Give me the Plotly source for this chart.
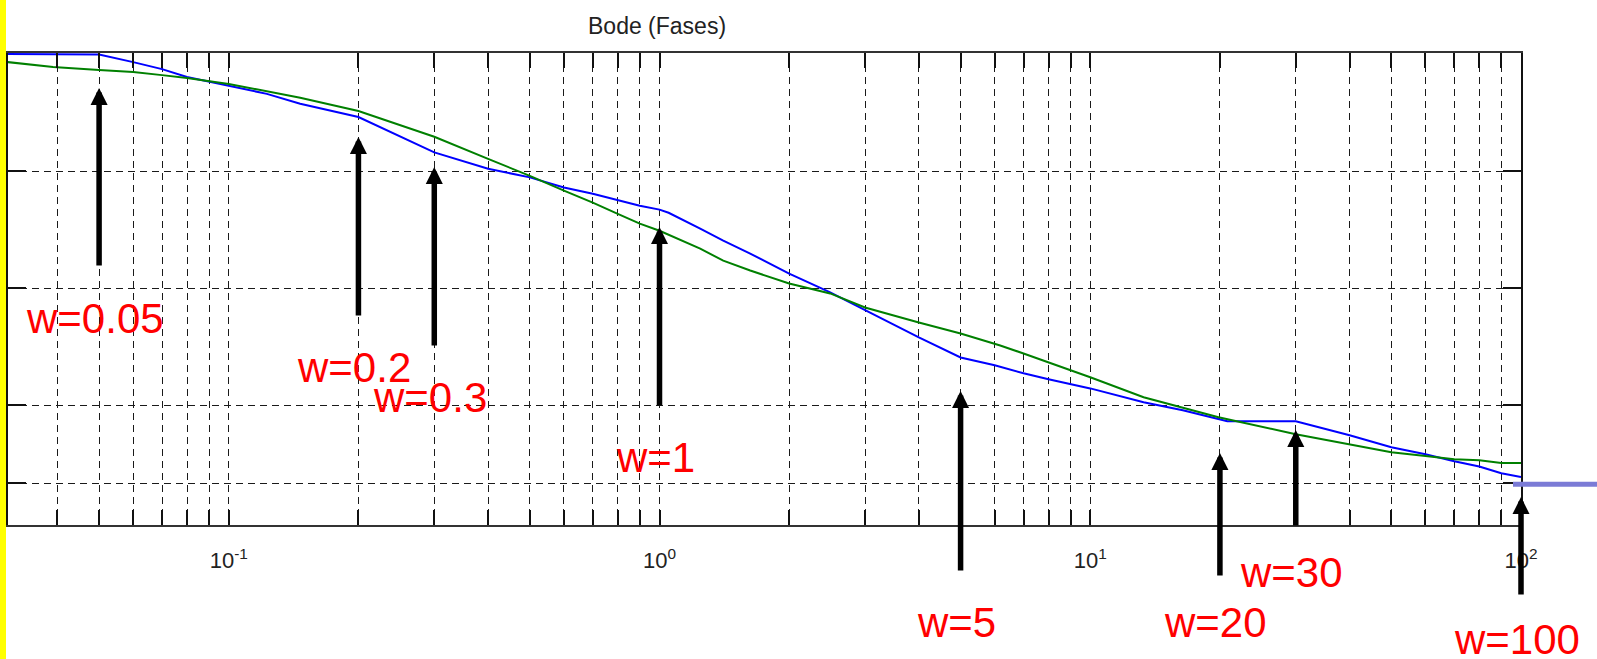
import numpy as np
import plotly.graph_objects as go

# Frequencies (rad/s) and phase curves (degrees)
freq = [0.0307, 0.05, 0.06, 0.07, 0.08, 0.1, 0.1226, 0.1465, 0.2, 0.3, 0.4, 0.5,
        0.6, 0.7, 0.8, 0.9, 1.0, 1.05, 1.243, 1.406, 1.624, 2.0, 2.49, 3.0, 4.0,
        5.0, 6.0, 7.0, 8.0, 10.0, 13.3, 16.4, 19.85, 20.8, 30.0, 40.0, 50.0,
        60.0, 70.0, 80.0, 90.0, 100.0]
phase_blue = [0.0, -0.2, -3.1, -5.8, -8.8, -12.3, -15.3, -19.1, -24.2, -37.8, -44.1,
              -47.4, -51.3, -53.7, -56.0, -58.3, -59.8, -61.0, -67.1, -71.7, -76.7,
              -84.4, -91.6, -98.5, -108.9, -116.6, -119.6, -122.7, -125.0, -128.5,
              -133.8, -136.9, -140.3, -141.1, -141.1, -146.5, -151.1, -153.8,
              -156.5, -158.5, -161.1, -162.6]

freq_g = [0.0307, 0.0391, 0.05, 0.06, 0.07, 0.08, 0.1, 0.1465, 0.2, 0.3, 0.4, 0.5,
          0.6, 0.7, 0.8, 0.9, 1.0, 1.243, 1.406, 1.624, 2.0, 2.49, 3.0, 4.0, 5.0,
          6.18, 7.0, 10.0, 13.3, 19.85, 30.0, 40.0, 50.0, 60.0, 70.0, 80.0, 90.0,
          100.0]
phase_green = [-3.1, -5.0, -6.1, -6.9, -8.1, -9.2, -11.5, -16.8, -21.9, -31.8, -40.3,
               -46.8, -52.5, -57.1, -61.4, -65.2, -67.9, -74.8, -79.4, -83.2, -88.2,
               -92.0, -97.4, -103.2, -107.4, -112.0, -115.1, -124.2, -131.9, -139.6,
               -146.1, -149.9, -153.0, -154.5, -155.7, -156.1, -157.2, -157.2]

# Marked frequencies
marked_w = [0.05, 0.2, 0.3, 1, 5, 20, 30, 100]
marked_labels = ["w=0.05", "w=0.2", "w=0.3", "w=1", "w=5", "w=20", "w=30", "w=100"]

# Axis ticks
decade_vals = [0.1, 1, 10, 100]
decade_text = ["10<sup>-1</sup>", "10<sup>0</sup>", "10<sup>1</sup>", "10<sup>2</sup>"]
phase_ticks = [-45, -90, -135, -165]
limit_phase = -165.3

W, H = 1597, 659
ML, MR, MT, MB = 8, 76, 53, 134
PW, PH = W - ML - MR, H - MT - MB

def py(pix):
    """Vertical pixel -> paper fraction."""
    return (H - MB - pix) / PH

def px(pix):
    return (pix - ML) / PW

FONT = "Arial, Liberation Sans, sans-serif"

fig = go.Figure()
fig.add_trace(go.Scatter(x=freq, y=phase_blue, mode="lines",
                         line=dict(color="#0000ff", width=2), showlegend=False))
fig.add_trace(go.Scatter(x=freq_g, y=phase_green, mode="lines",
                         line=dict(color="#008000", width=2), showlegend=False))

minor_vals = [m * 10.0 ** e for e in range(-2, 2) for m in range(2, 10)]
grid_style = dict(griddash="7px,5px", gridcolor="#1a1a1a", gridwidth=1.4)

fig.update_xaxes(type="log", range=[-1.5125, 2],
                 tickvals=decade_vals, ticktext=decade_text,
                 showline=True, linecolor="#333", linewidth=2, mirror="ticks",
                 ticks="inside", ticklen=15, tickwidth=1.5, tickcolor="#111",
                 showgrid=True, **grid_style,
                 tickfont=dict(family=FONT, size=22, color="#222"),
                 ticklabelstandoff=15,
                 minor=dict(tickvals=minor_vals, ticks="inside", ticklen=15,
                            tickwidth=1.5, tickcolor="#111", showgrid=True,
                            **grid_style),
                 zeroline=False)
fig.update_yaxes(range=[-181, 0.4], tickvals=phase_ticks, showticklabels=False,
                 showline=True, linecolor="#111", linewidth=2, mirror="ticks",
                 ticks="inside", ticklen=18, tickwidth=1.5, tickcolor="#111",
                 showgrid=True, **grid_style, zeroline=False)

# Arrows pointing up to each marked frequency
arrow_tip = [88, 137, 167, 227, 391, 453, 430, 497]
arrow_len = [179, 180, 180, 180, 181, 124, 97, 99]
label_y = [318, 367, 397, 457, 622, 622, 572, 639]

anns = []
for w, tip, ln in zip(marked_w, arrow_tip, arrow_len):
    anns.append(dict(x=np.log10(w), xref="x", y=py(tip), yref="paper", text="",
                     showarrow=True, ax=0, ay=ln, arrowhead=2, arrowsize=0.62,
                     arrowwidth=5.5, arrowcolor="#000", standoff=0))
for w, lab, ly in zip(marked_w, marked_labels, label_y):
    anns.append(dict(x=np.log10(w), xref="x", y=py(ly), yref="paper", text=lab,
                     showarrow=False, xanchor="center", yanchor="middle", xshift=-4,
                     font=dict(family=FONT, size=42, color="#ff0000")))
anns.append(dict(x=px(657), xref="paper", y=py(26), yref="paper", text="Bode (Fases)",
                 showarrow=False, xanchor="center", yanchor="middle",
                 font=dict(family=FONT, size=23, color="#222")))

shapes = [
    dict(type="rect", xref="paper", yref="paper", x0=px(0), x1=px(6),
         y0=py(H), y1=py(0), fillcolor="#ffff00", line=dict(width=0)),
    dict(type="line", xref="paper", yref="y", x0=px(1513), x1=px(W),
         y0=limit_phase, y1=limit_phase, line=dict(color="#7b7bd6", width=5)),
]

fig.update_layout(width=W, height=H, autosize=False,
                  margin=dict(l=ML, r=MR, t=MT, b=MB),
                  paper_bgcolor="white", plot_bgcolor="white",
                  annotations=anns, shapes=shapes, showlegend=False)

fig.write_html("out.html")
